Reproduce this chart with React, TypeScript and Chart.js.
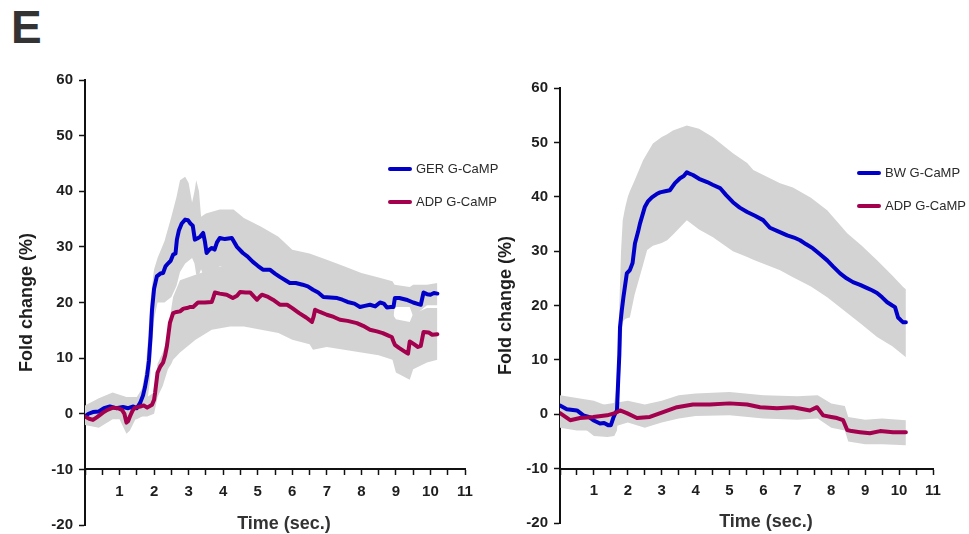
import React, { useEffect, useRef } from "react";
import { Chart, registerables } from "chart.js";

Chart.register(...registerables);

const FONT = '"Liberation Sans", Arial, Helvetica, sans-serif';
const BLUE = "#0000c8";
const MAROON = "#a3004e";
const BAND = "#d3d3d3";
const AXIS = "#111111";
const TEXT = "#1e1e1e";
const LINE_WIDTH = 4;

// Shared axis ranges
const Y_MIN = -20;
const Y_MAX = 60;
const Y_STEP = 10;
const X_MAX = 11;
const X_TICK_STEP = 0.5;
const X_AXIS_AT = -10;

// ---- Left panel: GER G-CaMP vs ADP G-CaMP ----
const gerTime = [0, 0.1, 0.23, 0.4, 0.55, 0.72, 0.9, 1.1, 1.25, 1.4, 1.5, 1.6, 1.68, 1.74, 1.8, 1.85, 1.9, 1.94, 2.0, 2.08, 2.18, 2.26, 2.33, 2.4, 2.48, 2.55, 2.62, 2.66, 2.72, 2.8, 2.9, 2.98, 3.05, 3.12, 3.18, 3.25, 3.33, 3.42, 3.47, 3.52, 3.6, 3.67, 3.75, 3.82, 3.9, 4.05, 4.25, 4.4, 4.57, 4.7, 4.86, 5.0, 5.15, 5.35, 5.5, 5.64, 5.8, 5.93, 6.1, 6.3, 6.45, 6.6, 6.75, 6.9, 7.1, 7.3, 7.45, 7.6, 7.8, 7.96, 8.1, 8.25, 8.4, 8.54, 8.65, 8.74, 8.85, 8.93, 8.97, 9.1, 9.3, 9.5, 9.65, 9.72, 9.8, 9.9, 10.0, 10.1, 10.2];
const gerMean = [-0.5, 0, 0.3, 0.4, 1.0, 1.3, 1.0, 1.2, 1.0, 1.3, 1.0, 2.0, 3.3, 4.9, 7.0, 9.5, 14, 18.7, 22.5, 24.7, 25.2, 25.3, 26.5, 27.0, 27.5, 28.6, 28.8, 31.3, 33.0, 34.2, 34.9, 34.8, 34.2, 33.8, 31.3, 31.5, 31.8, 32.5, 31.0, 28.9, 29.5, 29.8, 29.5, 30.8, 31.6, 31.4, 31.6, 30.0, 28.9, 28.3, 27.3, 26.6, 25.9, 25.9, 25.2, 24.6, 24.0, 23.5, 23.5, 23.2, 22.9, 22.3, 21.8, 21.0, 20.9, 20.8, 20.5, 20.1, 19.8, 19.2, 19.4, 19.6, 19.3, 20.0, 19.8, 19.1, 19.2, 19.2, 20.8, 20.8, 20.5, 20.0, 19.7, 19.6, 21.8, 21.5, 21.4, 21.7, 21.6];
const gerBandTime = [0, 0.4, 0.8, 1.2, 1.5, 1.65, 1.75, 1.82, 1.88, 1.94, 2.0, 2.1, 2.3, 2.5, 2.65, 2.75, 2.9, 3.0, 3.1, 3.17, 3.22, 3.3, 3.36, 3.5, 3.9, 4.3, 4.6, 5.1, 5.6, 6.0, 6.5, 7.0, 7.5, 8.0, 8.5, 8.9, 8.96, 9.4, 9.5, 9.9, 10.2];
const gerUpper = [1.5, 2.8, 3.8, 3, 3, 4.5, 8, 13, 19, 23, 26, 28, 31, 35.4, 39, 42, 42.6, 41.5, 38, 40, 42, 40, 35.4, 36, 36.7, 36.7, 35.2, 33.6, 31.8, 29.5, 28.8, 27.7, 26.5, 25.3, 24.5, 23.8, 23.2, 22.8, 23.2, 23.2, 23.5];
const gerLower = [-1.5, -1, -0.5, -1, -1, -0.5, 0.5, 3, 6, 12, 17, 20, 20, 21, 23, 25.5, 27, 27.5, 28, 27, 25, 25, 26, 23.5, 26.5, 26.5, 23.5, 20.5, 19.5, 17.5, 16.5, 15.5, 14.5, 13.5, 14, 15, 19.2, 19.2, 17.5, 19.5, 19.5];

const adpLTime = [0, 0.12, 0.23, 0.35, 0.52, 0.65, 0.81, 0.95, 1.07, 1.14, 1.2, 1.25, 1.3, 1.38, 1.45, 1.6, 1.7, 1.8, 1.94, 2.0, 2.03, 2.1, 2.18, 2.26, 2.32, 2.37, 2.42, 2.46, 2.55, 2.65, 2.75, 2.85, 2.95, 3.05, 3.13, 3.27, 3.47, 3.67, 3.72, 3.76, 3.9, 4.1, 4.28, 4.4, 4.49, 4.65, 4.78, 4.9, 4.98, 5.05, 5.12, 5.3, 5.44, 5.64, 5.85, 6.0, 6.2, 6.4, 6.57, 6.62, 6.66, 6.8, 7.0, 7.2, 7.38, 7.6, 7.87, 8.05, 8.25, 8.45, 8.62, 8.8, 8.88, 8.93, 8.97, 9.1, 9.3, 9.35, 9.4, 9.5, 9.64, 9.72, 9.8, 9.95, 10.05, 10.2];
const adpLMean = [-0.5, -0.9, -1.1, -0.6, 0.2, 0.7, 1.1, 1.0, 0.7, 0, -1.6, -1.3, -0.5, 0.6, 1.1, 1.3, 1.5, 1.1, 1.6, 2.5, 3.8, 7.4, 8.5, 9.2, 10.5, 12.1, 14.5, 16.4, 18.1, 18.3, 18.4, 18.9, 19.0, 19.2, 19.2, 20.0, 20.0, 20.1, 21.0, 21.8, 21.6, 21.4, 20.8, 21.2, 21.9, 21.8, 21.8, 21.0, 20.5, 21.0, 21.4, 21.0, 20.5, 19.6, 19.6, 19.0, 18.1, 17.3, 16.5, 17.5, 18.7, 18.3, 17.8, 17.4, 16.9, 16.7, 16.3, 15.8, 15.1, 14.8, 14.5, 14.0, 13.8, 13.0, 12.4, 11.8, 11.0, 10.8, 13.0, 12.6, 12.0, 12.2, 14.7, 14.6, 14.2, 14.3];
const adpLBandTime = [0, 0.4, 0.8, 1.0, 1.2, 1.3, 1.5, 1.8, 2.0, 2.1, 2.25, 2.4, 2.5, 2.55, 2.75, 3.2, 3.67, 4.2, 4.6, 5.1, 5.6, 6.0, 6.5, 6.6, 7.0, 7.5, 8.0, 8.5, 8.9, 9.0, 9.4, 9.5, 9.9, 10.2];
const adpLUpper = [1, 2.2, 3.5, 3, 2.5, 1.5, 2.5, 3, 3.8, 9, 11, 14, 19, 21, 24, 25, 26, 27, 27.5, 27, 25, 24, 22.5, 23, 23, 22, 21.5, 20, 18, 17, 16.5, 18, 19, 19];
const adpLLower = [-2, -2.5, -1, -1, -3.6, -3, -0.5, -0.5, 0, 3, 5, 8, 9, 9.7, 11, 13.3, 15.1, 15.7, 15.7, 15.1, 14.5, 13.3, 12.5, 11.5, 12, 11.5, 11, 10.5, 9.7, 7.4, 6.1, 8, 9.2, 9.7];

// ---- Right panel: BW G-CaMP vs ADP G-CaMP ----
const bwTime = [0, 0.2, 0.5, 0.69, 0.85, 0.98, 1.18, 1.3, 1.42, 1.5, 1.57, 1.63, 1.68, 1.72, 1.75, 1.77, 1.82, 1.87, 1.97, 2.06, 2.14, 2.21, 2.3, 2.36, 2.5, 2.6, 2.71, 2.85, 2.95, 3.1, 3.24, 3.39, 3.54, 3.65, 3.74, 3.8, 3.92, 4.1, 4.34, 4.5, 4.72, 4.9, 5.1, 5.3, 5.52, 5.75, 5.99, 6.19, 6.45, 6.7, 6.9, 7.08, 7.25, 7.46, 7.65, 7.88, 8.05, 8.26, 8.45, 8.64, 8.85, 9.06, 9.2, 9.35, 9.5, 9.65, 9.8, 9.88, 9.97, 10.05, 10.12, 10.2];
const bwMean = [1.6, 0.9, 0.7, -0.2, -0.5, -1.1, -1.7, -1.6, -2.0, -2.0, -0.7, 0.2, 0.7, 6.8, 11, 16, 19, 21.5, 25.9, 26.5, 27.8, 31.4, 33.5, 35.1, 38.1, 39.2, 39.9, 40.5, 40.8, 41.0, 41.2, 42.5, 43.4, 43.8, 44.5, 44.3, 44.0, 43.3, 42.7, 42.2, 41.6, 40.3, 39.0, 38.0, 37.2, 36.5, 35.7, 34.3, 33.6, 32.9, 32.5, 32.0, 31.3, 30.5, 29.5, 28.3, 27.2, 25.9, 25.0, 24.3, 23.8, 23.2, 22.8, 22.3, 21.5, 20.6, 20.0, 19.7, 17.8, 17.3, 16.9, 16.9];
const bwBandTime = [0, 0.5, 1.0, 1.4, 1.6, 1.68, 1.74, 1.8, 1.85, 1.92, 2.0, 2.06, 2.2, 2.45, 2.57, 2.74, 3.0, 3.16, 3.33, 3.74, 4.1, 4.5, 5.1, 5.52, 5.7, 6.49, 6.87, 7.4, 7.88, 8.47, 8.9, 9.35, 9.8, 10.12, 10.2];
const bwUpper = [3.5, 3, 2.5, 1.5, 2, 6, 18, 30, 35.7, 38, 40, 41, 43, 46.7, 48, 49.8, 51, 51.5, 52.2, 53.1, 52.5, 51, 48, 46.2, 44.9, 42.5, 41.7, 39.8, 37.5, 33.3, 31, 28.3, 25.5, 23.4, 23];
const bwLower = [-0.5, -1.5, -4, -4.2, -4, -3, 2, 12, 17, 17.5, 17.7, 17.8, 22, 27.5, 30.2, 31, 31.5, 32, 33, 35.7, 34, 32.6, 30, 28.9, 28.4, 26.5, 25.2, 23.5, 21.5, 18.6, 16.5, 14.2, 12.5, 10.9, 10.5];

const adpRTime = [0, 0.3, 0.59, 0.98, 1.39, 1.62, 1.77, 1.97, 2.27, 2.65, 3.04, 3.45, 3.92, 4.42, 5.0, 5.52, 5.9, 6.4, 6.87, 7.37, 7.58, 7.76, 8.0, 8.17, 8.35, 8.47, 8.6, 8.85, 9.14, 9.44, 9.82, 10.2];
const adpRMean = [0.2, -1.1, -0.7, -0.5, -0.2, 0.2, 0.7, 0.2, -0.7, -0.5, 0.4, 1.3, 1.8, 1.8, 2.0, 1.8, 1.3, 1.1, 1.3, 0.7, 1.3, -0.2, -0.5, -0.7, -1.1, -2.9, -3.1, -3.3, -3.5, -3.1, -3.3, -3.3];
const adpRBandTime = [0, 0.5, 1.0, 1.5, 2.0, 2.5, 3.0, 3.5, 4.0, 5.0, 6.0, 7.0, 7.6, 8.0, 8.4, 8.5, 9.0, 9.5, 10.2];
const adpRUpper = [2.5, 1.5, 1.5, 2, 2.5, 1.8, 2.5, 3.5, 3.8, 4.1, 3.5, 3.3, 3.5, 2.0, 1.5, -0.5, -1.0, -0.8, -1.1];
const adpRLower = [-2.5, -3, -3, -2.5, -1.5, -2.5, -1.5, -0.8, -0.3, -0.2, -0.8, -1, -0.8, -2.5, -3, -5, -5.5, -5.5, -5.7];

const toPoints = (t: number[], v: number[]) => t.map((x, i) => ({ x, y: v[i] }));

const lineSet = (label: string, color: string, t: number[], v: number[]) => ({
  label,
  data: toPoints(t, v),
  borderColor: color,
  backgroundColor: color,
  borderWidth: LINE_WIDTH,
  borderJoinStyle: "round",
  borderCapStyle: "round",
  pointRadius: 0,
  tension: 0,
  fill: false,
});

const bandSets = (t: number[], hi: number[], lo: number[]) => [
  {
    label: "",
    data: toPoints(t, hi),
    borderColor: "rgba(0,0,0,0)",
    borderWidth: 0,
    backgroundColor: BAND,
    pointRadius: 0,
    tension: 0,
    fill: "+1",
  },
  {
    label: "",
    data: toPoints(t, lo),
    borderColor: "rgba(0,0,0,0)",
    borderWidth: 0,
    backgroundColor: BAND,
    pointRadius: 0,
    tension: 0,
    fill: false,
  },
];

// Draws the series key and the x-axis caption at fixed spots in the panel.
const panelText = {
  id: "panelText",
  afterDraw(chart: any, _args: any, opts: any) {
    const { ctx } = chart;
    ctx.save();
    const keys = opts.keys || [];
    for (let i = 0; i < keys.length; i++) {
      const ds = chart.data.datasets[keys[i]];
      const y = opts.keyY + i * opts.keyGap;
      ctx.strokeStyle = ds.borderColor;
      ctx.lineWidth = LINE_WIDTH;
      ctx.lineCap = "round";
      ctx.beginPath();
      ctx.moveTo(opts.keyX, y);
      ctx.lineTo(opts.keyX + 20, y);
      ctx.stroke();
      ctx.fillStyle = "#2a2a2a";
      ctx.font = `13px ${FONT}`;
      ctx.textAlign = "left";
      ctx.textBaseline = "middle";
      ctx.fillText(ds.label, opts.keyX + 26, y + 0.5);
    }
    if (opts.caption) {
      ctx.fillStyle = "#333333";
      ctx.font = `bold 18px ${FONT}`;
      ctx.textAlign = "center";
      ctx.textBaseline = "alphabetic";
      ctx.fillText(opts.caption, opts.captionX, opts.captionY);
    }
    ctx.restore();
  },
};

type PanelSpec = {
  datasets: any[];
  keys: number[];
  keyX: number;
  keyY: number;
  padTop: number;
  padRight: number;
  padBottom: number;
  yWidth: number;
  yTitlePad: number;
  captionX: number;
  captionY: number;
};

const tickFont = { family: FONT, size: 15, weight: "bold" as const };

function panelConfig(p: PanelSpec): any {
  return {
    type: "line",
    data: { datasets: p.datasets },
    options: {
      responsive: false,
      animation: false,
      events: [],
      layout: { padding: { left: 0, top: p.padTop, right: p.padRight, bottom: p.padBottom } },
      scales: {
        x: {
          type: "linear",
          min: 0,
          max: X_MAX,
          position: { y: X_AXIS_AT },
          afterFit: (s: any) => {
            s.paddingLeft = 0;
            s.paddingRight = 0;
          },
          ticks: {
            stepSize: X_TICK_STEP,
            autoSkip: false,
            maxRotation: 0,
            padding: 8,
            color: TEXT,
            font: tickFont,
            callback: (v: number) => (Number.isInteger(v) && v >= 1 ? String(v) : ""),
          },
          grid: { drawOnChartArea: false, drawTicks: true, tickLength: 5, tickColor: AXIS, tickWidth: 1.5 },
          border: { display: true, color: AXIS, width: 2 },
        },
        y: {
          type: "linear",
          min: Y_MIN,
          max: Y_MAX,
          afterFit: (s: any) => {
            s.width = p.yWidth;
            s.paddingTop = 0;
            s.paddingBottom = 0;
          },
          ticks: { stepSize: Y_STEP, padding: 6, color: TEXT, font: tickFont },
          grid: { drawOnChartArea: false, drawTicks: true, tickLength: 6, tickColor: AXIS, tickWidth: 1.5 },
          border: { display: true, color: AXIS, width: 2 },
          title: {
            display: true,
            text: "Fold change (%)",
            color: TEXT,
            font: { family: FONT, size: 18, weight: "bold" },
            padding: { top: p.yTitlePad, bottom: 0 },
          },
        },
      },
      plugins: {
        legend: { display: false },
        tooltip: { enabled: false },
        panelText: {
          keys: p.keys,
          keyX: p.keyX,
          keyY: p.keyY,
          keyGap: 33,
          caption: "Time (sec.)",
          captionX: p.captionX,
          captionY: p.captionY,
        },
      },
    },
    plugins: [panelText],
  };
}

const leftSpec: PanelSpec = {
  datasets: [
    lineSet("ADP G-CaMP", MAROON, adpLTime, adpLMean),
    lineSet("GER G-CaMP", BLUE, gerTime, gerMean),
    ...bandSets(gerBandTime, gerUpper, gerLower),
    ...bandSets(adpLBandTime, adpLUpper, adpLLower),
  ],
  keys: [1, 0],
  keyX: 390,
  keyY: 169,
  padTop: 80,
  padRight: 55,
  padBottom: 19,
  yWidth: 85,
  yTitlePad: 16,
  captionX: 284,
  captionY: 529,
};

const rightSpec: PanelSpec = {
  datasets: [
    lineSet("ADP G-CaMP", MAROON, adpRTime, adpRMean),
    lineSet("BW G-CaMP", BLUE, bwTime, bwMean),
    ...bandSets(bwBandTime, bwUpper, bwLower),
    ...bandSets(adpRBandTime, adpRUpper, adpRLower),
  ],
  keys: [1, 0],
  keyX: 374,
  keyY: 173,
  padTop: 88,
  padRight: 36,
  padBottom: 21,
  yWidth: 75,
  yTitlePad: 10,
  captionX: 281,
  captionY: 527,
};

function Panel({ spec, left, width, height }: { spec: PanelSpec; left: number; width: number; height: number }) {
  const ref = useRef<HTMLCanvasElement>(null);
  useEffect(() => {
    if (!ref.current) return;
    const chart = new Chart(ref.current, panelConfig(spec));
    return () => chart.destroy();
  }, [spec]);
  return (
    <canvas
      ref={ref}
      width={width}
      height={height}
      style={{ position: "absolute", left, top: 0, width, height, display: "block" }}
    />
  );
}

export default function App() {
  return (
    <div
      style={{
        position: "absolute",
        left: 0,
        top: 0,
        width: 969,
        height: 534,
        overflow: "hidden",
        background: "#ffffff",
      }}
    >
      <div
        style={{
          position: "absolute",
          left: 11,
          top: 1,
          font: `bold 46px ${FONT}`,
          lineHeight: "52px",
          color: "#333333",
        }}
      >
        E
      </div>
      <Panel spec={leftSpec} left={0} width={520} height={544} />
      <Panel spec={rightSpec} left={485} width={484} height={544} />
    </div>
  );
}
